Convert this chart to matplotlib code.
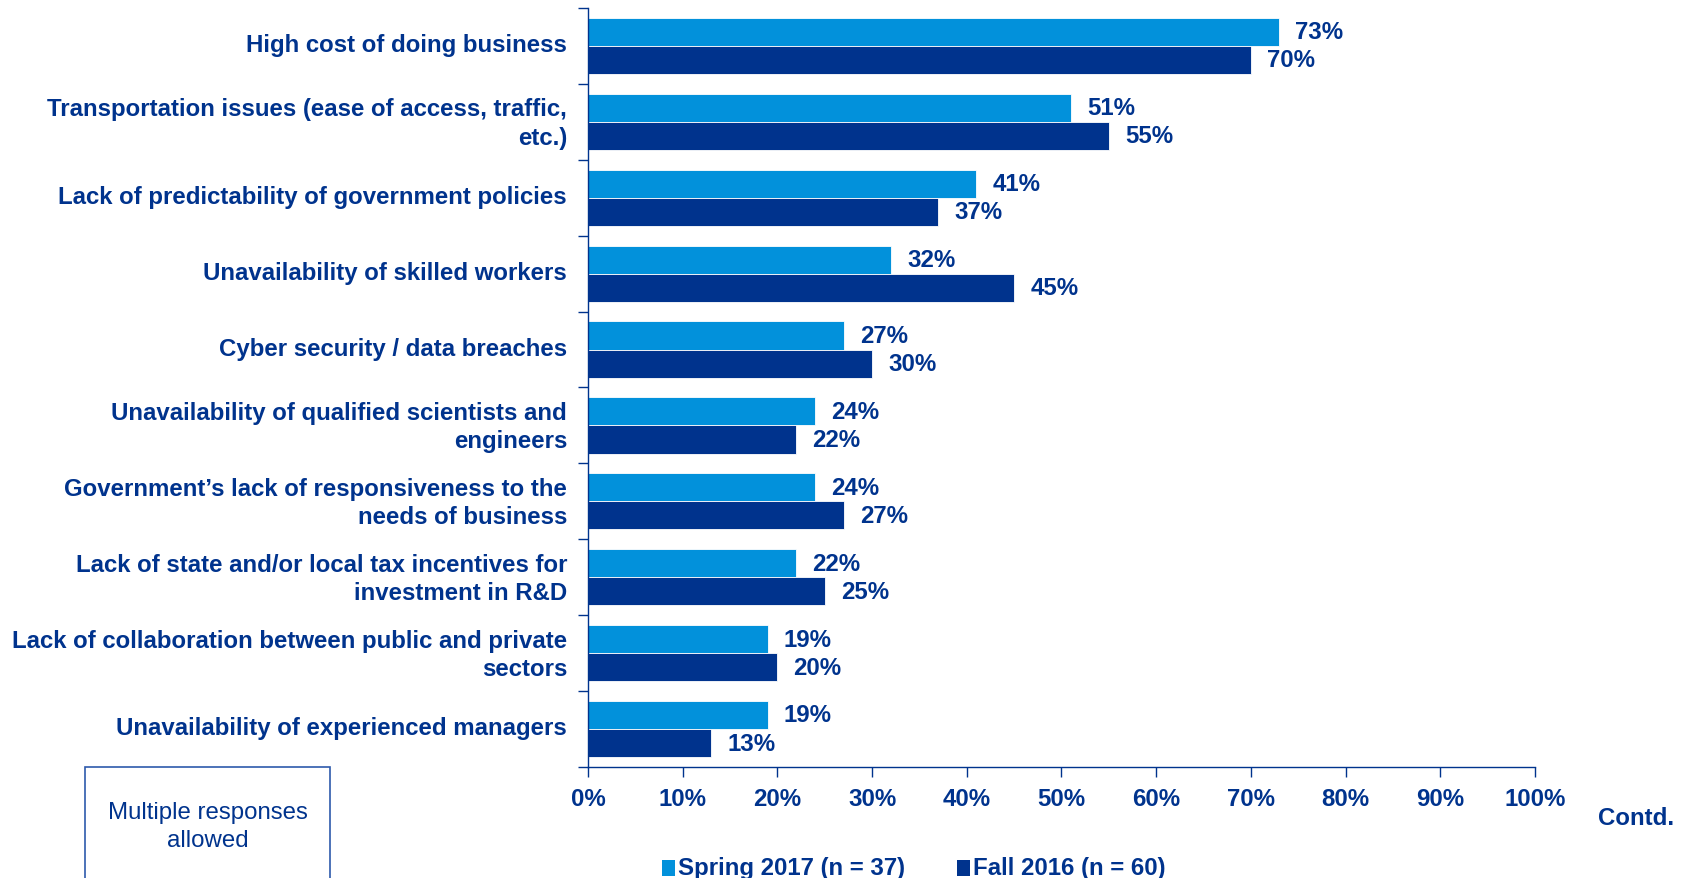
import matplotlib
matplotlib.use("Agg")
import matplotlib.pyplot as plt
import matplotlib.transforms as mtransforms
from matplotlib.patches import Rectangle
import numpy as np

plt.rcParams['font.family'] = ['Liberation Sans', 'DejaVu Sans']

categories = [
    "High cost of doing business",
    "Transportation issues (ease of access, traffic,\netc.)",
    "Lack of predictability of government policies",
    "Unavailability of skilled workers",
    "Cyber security / data breaches",
    "Unavailability of qualified scientists and\nengineers",
    "Government\u2019s lack of responsiveness to the\nneeds of business",
    "Lack of state and/or local tax incentives for\ninvestment in R&D",
    "Lack of collaboration between public and private\nsectors",
    "Unavailability of experienced managers",
]
spring2017 = [73, 51, 41, 32, 27, 24, 24, 22, 19, 19]
fall2016 = [70, 55, 37, 45, 30, 22, 27, 25, 20, 13]
series_names = ["Spring 2017 (n = 37)", "Fall 2016 (n = 60)"]
xticks = [0, 10, 20, 30, 40, 50, 60, 70, 80, 90, 100]

LIGHT = "#0291DB"
DARK = "#00338D"
TXT = "#00338D"
FS = 17.3

fig = plt.figure(figsize=(16.88, 8.79), dpi=100)
ax = fig.add_axes([0.3483, 0.1263, 0.9094 - 0.3483, 0.9898 - 0.1263])

n = len(categories)
y = np.arange(n)
h = 0.37
ax.barh(y - h / 2, spring2017, height=h, color=LIGHT, edgecolor="white", linewidth=0.6)
ax.barh(y + h / 2, fall2016, height=h, color=DARK, edgecolor="white", linewidth=0.6)

for yi, v in zip(y, spring2017):
    ax.text(v + 1.7, yi - h / 2, f"{v}%", va="center", ha="left", fontsize=FS,
            fontweight="bold", color=TXT)
for yi, v in zip(y, fall2016):
    ax.text(v + 1.7, yi + h / 2, f"{v}%", va="center", ha="left", fontsize=FS,
            fontweight="bold", color=TXT)

ax.set_ylim(n - 0.5, -0.5)
ax.set_xlim(0, 100)

# category labels
ax.set_yticks(y)
ax.set_yticklabels(categories, fontsize=FS, fontweight="bold", color=TXT,
                   linespacing=1.3, ha="right")
ax.tick_params(axis="y", length=0, pad=15)
shift = mtransforms.ScaledTranslation(0, 4 / 100, fig.dpi_scale_trans)
for lbl in ax.get_yticklabels():
    lbl.set_transform(lbl.get_transform() + shift)
# boundary ticks
ax.set_yticks(np.arange(-0.5, n, 1.0), minor=True)
ax.tick_params(axis="y", which="minor", length=7, width=1, color=TXT, direction="out")

ax.set_xticks(xticks)
ax.set_xticklabels([f"{t}%" for t in xticks], fontsize=FS, fontweight="bold", color=TXT)
ax.tick_params(axis="x", length=7, width=1, color=TXT, direction="out", pad=7.5)

for s in ["top", "right"]:
    ax.spines[s].set_visible(False)
for s in ["left", "bottom"]:
    ax.spines[s].set_color(TXT)
    ax.spines[s].set_linewidth(1)

fig.text(1636 / 1688, 1 - 819 / 879, "Contd.", ha="center", va="center", fontsize=FS,
         fontweight="bold", color=TXT)

# legend
leg_y = 1 - 869 / 879
for xpix, name, col in [(662, series_names[0], LIGHT), (957, series_names[1], DARK)]:
    fig.patches.append(Rectangle((xpix / 1688, leg_y - 8 / 879), 13 / 1688, 16 / 879,
                                 transform=fig.transFigure, facecolor=col,
                                 edgecolor="none"))
    fig.text((xpix + 16) / 1688, leg_y, name, ha="left", va="center", fontsize=FS,
             fontweight="bold", color=TXT)

# note box
fig.patches.append(Rectangle((85 / 1688, -0.05), (330 - 85) / 1688, 0.05 + (879 - 768) / 879,
                             transform=fig.transFigure, facecolor="white",
                             edgecolor="#2E5AAC", linewidth=1.2))
fig.text(208 / 1688, 1 - 827 / 879, "Multiple responses\nallowed", ha="center", va="center",
         fontsize=FS, color=TXT, linespacing=1.3)

fig.savefig("out.png", dpi=100)
